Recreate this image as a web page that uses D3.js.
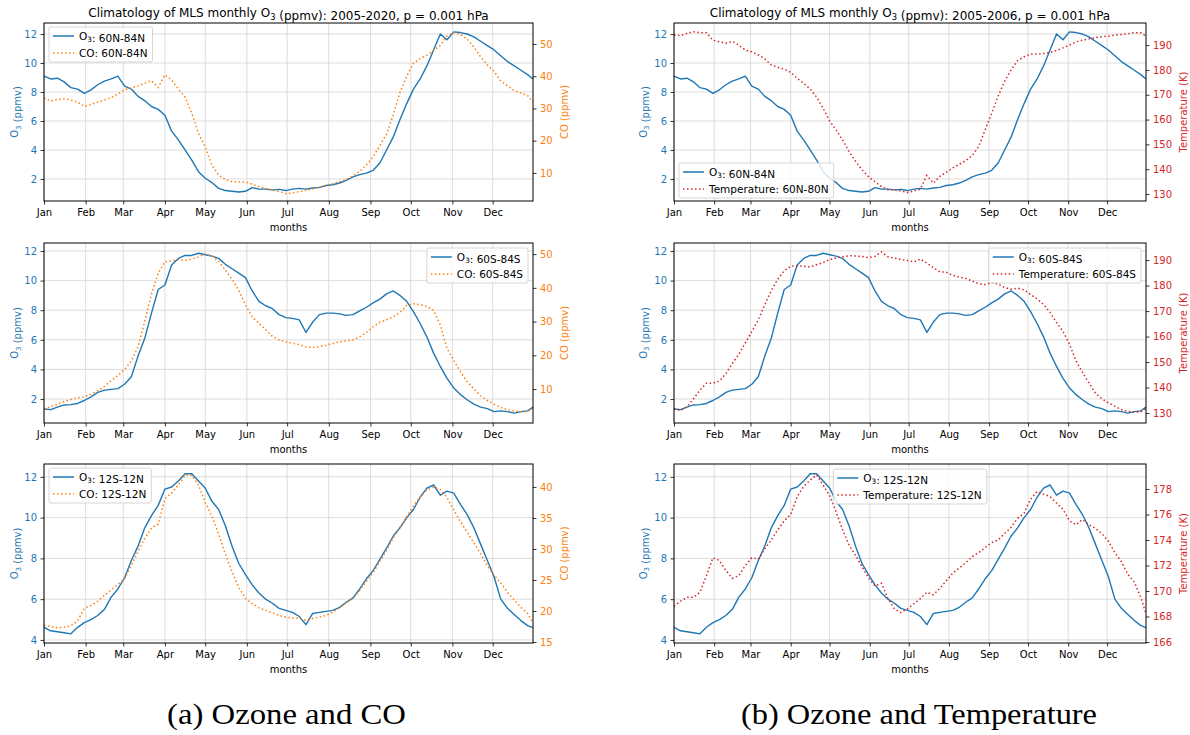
<!DOCTYPE html>
<html>
<head>
<meta charset="utf-8">
<script src="https://cdn.jsdelivr.net/npm/d3@7/dist/d3.min.js"></script>
<style>
  html, body { margin: 0; padding: 0; background: #fff; }
  svg { display: block; }
</style>
</head>
<body>
<svg id="figure" width="1190" height="735"></svg>
<script>
// Day-of-year sample positions (0 = 1 January)
const DAYS = [
  0, 5, 10, 15, 20, 25, 30, 35, 40, 45,
  50, 55, 60, 65, 70, 75, 80, 85, 90, 95,
  100, 105, 110, 115, 120, 125, 130, 135, 140, 145,
  150, 155, 160, 165, 170, 175, 180, 185, 190, 195,
  200, 205, 210, 215, 220, 225, 230, 235, 240, 245,
  250, 255, 260, 265, 270, 275, 280, 285, 290, 295,
  300, 305, 310, 315, 320, 325, 330, 335, 340, 345,
  350, 355, 360, 364
];
const MONTH_START_DAYS = [0, 31, 59, 90, 120, 151, 181, 212, 243, 273, 304, 334];
const MONTH_LABELS = ["Jan", "Feb", "Mar", "Apr", "May", "Jun", "Jul", "Aug", "Sep", "Oct", "Nov", "Dec"];

// O3 (ppmv), 0.001 hPa
const O3_60N_84N = [
  9.1, 8.9, 8.95, 8.7, 8.3, 8.2, 7.9, 8.15, 8.5, 8.75,
  8.9, 9.1, 8.4, 8.2, 7.7, 7.4, 7.0, 6.8, 6.4, 5.3,
  4.7, 4.0, 3.3, 2.5, 2.05, 1.75, 1.35, 1.2, 1.15, 1.1,
  1.15, 1.4, 1.3, 1.3, 1.25, 1.28, 1.2, 1.3, 1.35, 1.3,
  1.38, 1.42, 1.55, 1.6, 1.72, 1.9, 2.15, 2.3, 2.4, 2.6,
  3.1, 4.0, 4.9, 6.1, 7.2, 8.2, 8.9, 9.8, 10.9, 12.0,
  11.6, 12.15, 12.1, 12.0, 11.8, 11.5, 11.2, 10.9, 10.5, 10.1,
  9.8, 9.5, 9.2, 8.9
];
const O3_60S_84S = [
  1.33, 1.28, 1.45, 1.6, 1.62, 1.7, 1.9, 2.15, 2.45, 2.6,
  2.65, 2.7, 3.0, 3.5, 4.9, 6.1, 7.8, 9.4, 9.7, 11.05,
  11.5, 11.7, 11.7, 11.85, 11.75, 11.65, 11.5, 11.1, 10.8, 10.5,
  10.2, 9.3, 8.6, 8.3, 8.1, 7.7, 7.5, 7.45, 7.35, 6.5,
  7.2, 7.7, 7.8, 7.8, 7.75, 7.65, 7.7, 7.95, 8.2, 8.5,
  8.75, 9.1, 9.3, 9.0, 8.6, 7.9, 7.1, 6.2, 5.1, 4.2,
  3.4, 2.75, 2.3, 1.95, 1.65, 1.45, 1.35, 1.15, 1.2, 1.15,
  1.05, 1.15, 1.2, 1.45
];
const O3_12S_12N = [
  4.62, 4.45, 4.4, 4.35, 4.3, 4.62, 4.85, 5.0, 5.2, 5.5,
  6.1, 6.5, 7.05, 7.9, 8.6, 9.5, 10.1, 10.6, 11.4, 11.5,
  11.8, 12.15, 12.15, 11.8, 11.45, 10.8, 10.4, 9.6, 8.6, 7.75,
  7.2, 6.7, 6.3, 6.0, 5.8, 5.55, 5.45, 5.35, 5.15, 4.75,
  5.3, 5.35, 5.4, 5.45, 5.6, 5.85, 6.06, 6.5, 7.0, 7.4,
  7.95, 8.5, 9.1, 9.5, 10.0, 10.4, 11.0, 11.45, 11.6, 11.1,
  11.3, 11.2, 10.65, 10.15, 9.5, 8.7, 7.9, 7.1, 6.0, 5.55,
  5.25, 4.95, 4.7, 4.6
];

// CO (ppmv)
const CO_60N_84N = [
  33.2, 32.3, 32.8, 33.0, 32.6, 32.0, 30.6, 31.2, 32.0, 32.6,
  33.4, 34.5, 35.8, 36.4, 37.0, 37.8, 38.6, 36.5, 40.4, 38.8,
  36.0, 33.5, 28.5, 22.3, 18.1, 12.4, 9.3, 8.0, 7.3, 7.2,
  7.2, 6.5, 5.8, 5.2, 4.8, 4.2, 3.6, 3.8, 4.2, 4.6,
  5.0, 5.6, 6.2, 6.7, 7.3, 8.0, 9.0, 10.5, 12.5, 15.0,
  18.5, 22.0, 28.0, 35.0, 40.0, 44.0, 45.5, 46.5, 48.0, 49.5,
  52.5, 53.5, 53.0, 51.5, 49.0, 46.0, 43.5, 41.5, 38.5, 37.0,
  35.5, 34.8, 34.0, 32.0
];
const CO_60S_84S = [
  4.1, 4.8, 5.5, 6.3, 6.9, 7.4, 7.7, 8.5, 9.5, 10.8,
  12.5, 14.0, 15.8, 18.3, 22.5, 30.0, 38.2, 44.3, 47.7, 48.0,
  48.3, 48.2, 48.5, 49.2, 50.0, 49.5, 47.8, 45.3, 42.5, 39.3,
  34.9, 31.4, 29.5, 27.6, 25.6, 24.6, 24.0, 23.6, 23.2, 22.5,
  22.3, 22.6, 23.0, 23.5, 24.0, 24.3, 24.6, 25.5, 26.8, 28.5,
  29.8, 30.5, 31.5, 32.7, 34.8, 35.3, 35.0, 34.5, 33.3, 29.0,
  22.0, 18.5, 15.1, 12.2, 10.0, 8.0, 6.6, 5.5, 4.5, 3.9,
  3.5, 3.3, 3.3, 4.3
];
const CO_12S_12N = [
  17.7, 17.5, 17.3, 17.4, 17.6, 18.4, 20.4, 20.9, 21.6, 22.5,
  23.4, 24.3, 25.2, 27.3, 29.6, 31.7, 33.4, 34.0, 38.1, 39.0,
  40.3, 41.9, 41.9, 40.3, 37.5, 35.3, 32.4, 29.2, 26.3, 23.8,
  22.0, 21.2, 20.5, 20.1, 19.7, 19.3, 19.0, 18.9, 18.8, 18.5,
  18.8, 19.0, 19.3, 19.8, 20.5, 21.3, 22.0, 23.3, 24.8, 26.2,
  28.0, 29.8, 31.8, 33.5, 35.2, 36.9, 38.4, 39.5, 40.0, 39.6,
  38.3, 36.3, 34.4, 32.7, 31.0, 29.2, 27.3, 25.8, 24.5, 23.0,
  21.8, 20.6, 19.6, 18.0
];

// Temperature (K)
const T_60N_80N = [
  194.0, 193.8, 194.7, 195.4, 195.0, 195.0, 192.0, 191.3, 190.8, 191.5,
  190.0, 188.0, 187.3, 186.0, 184.5, 182.0, 181.0, 180.3, 179.0, 176.6,
  174.6, 172.3, 169.0, 164.5, 159.5, 155.8, 151.8, 147.1, 143.2, 139.8,
  137.0, 135.0, 133.0, 131.7, 131.8, 131.3, 130.6, 131.2, 132.0, 137.5,
  134.4, 137.1, 138.8, 140.5, 142.0, 143.5, 145.5, 149.2, 155.9, 162.5,
  169.5, 175.5, 180.0, 183.8, 185.3, 186.4, 186.4, 186.6, 187.0, 187.8,
  188.9, 190.0, 191.3, 192.0, 192.5, 193.0, 193.4, 193.6, 194.0, 194.3,
  194.6, 195.0, 195.0, 193.6
];
const T_60S_84S = [
  131.7, 131.0, 132.5, 135.5, 139.0, 141.7, 141.7, 142.5, 145.5, 149.5,
  153.0, 157.5, 162.0, 166.5, 172.5, 178.0, 182.5, 185.8, 187.6, 187.8,
  187.6, 187.3, 188.2, 189.0, 190.2, 190.8, 191.3, 191.7, 191.6, 191.4,
  191.0, 191.5, 193.2, 191.3, 190.8, 190.2, 189.8, 189.3, 190.4, 188.8,
  187.0, 185.4, 185.2, 184.0, 183.3, 182.8, 181.8, 180.7, 180.4, 181.2,
  180.6, 179.2, 178.6, 179.0, 178.3, 176.5, 174.8, 172.6, 169.5, 165.5,
  162.0, 157.0, 150.5, 146.0, 141.8, 137.8, 135.6, 134.0, 132.6, 131.4,
  130.6, 130.4, 130.5, 131.8
];
const T_12S_12N = [
  168.8, 169.2, 169.5, 169.5, 169.9, 171.2, 172.6, 172.4, 171.6, 171.0,
  171.2, 172.0, 172.6, 172.5, 173.3, 174.0, 174.8, 175.5, 176.0, 177.4,
  178.2, 178.7, 179.1, 178.3, 177.5, 176.2, 174.8, 173.6, 172.8, 171.9,
  171.0, 170.4, 170.6, 169.4, 168.6, 168.3, 168.6, 169.0, 169.4, 169.9,
  169.7, 170.2, 170.8, 171.4, 171.8, 172.2, 172.7, 173.0, 173.4, 173.8,
  174.0, 174.5, 175.0, 175.7, 176.1, 177.2, 177.8, 177.6, 177.4, 176.9,
  176.4, 175.5, 175.2, 175.6, 175.2, 174.9, 174.5, 173.9, 173.0, 172.3,
  171.3, 170.7, 169.5, 168.2
];

// Tick values
const O3_TICKS_HIGH_LAT = [2, 4, 6, 8, 10, 12];
const O3_TICKS_TROPICS = [4, 6, 8, 10, 12];
const CO_TICKS_HIGH_LAT = [10, 20, 30, 40, 50];
const CO_TICKS_TROPICS = [15, 20, 25, 30, 35, 40];
const T_TICKS_HIGH_LAT = [130, 140, 150, 160, 170, 180, 190];
const T_TICKS_TROPICS = [166, 168, 170, 172, 174, 176, 178];

const BLUE = "#1f77b4", ORANGE = "#ff7f0e", RED = "#d62728";
const FONT = "'DejaVu Sans', sans-serif";

const svg = d3.select("#figure");

// Write text made of plain and subscript parts, e.g. O<sub>3</sub>
function richText(sel, parts, size) {
  const sub = size * 0.7, shift = size * 0.25;
  parts.forEach(p => {
    if (p.sub) {
      sel.append("tspan").attr("font-size", sub).attr("dy", shift).text(p.t);
      sel.append("tspan").attr("dy", -shift).text("");
    } else {
      sel.append("tspan").text(p.t);
    }
  });
  return sel;
}
const O3 = [{ t: "O" }, { t: "3", sub: true }];

const LEFT_COL = { x: 44, w: 489 };
const RIGHT_COL = { x: 674, w: 472 };
const ROWS = [{ y: 23, h: 178 }, { y: 243, h: 180 }, { y: 464, h: 179 }];

const panels = [
  { col: LEFT_COL, row: ROWS[0], o3: O3_60N_84N, o3Dom: [0.48, 12.76], o3Ticks: O3_TICKS_HIGH_LAT,
    sec: CO_60N_84N, secDom: [1.3, 56.5], secTicks: CO_TICKS_HIGH_LAT, color: ORANGE,
    secAxis: "CO (ppmv)", region: "60N-84N", secLegend: "CO: 60N-84N", loc: "upper left",
    title: "2005-2020", rLabelOff: 31.5 },
  { col: LEFT_COL, row: ROWS[1], o3: O3_60S_84S, o3Dom: [0.38, 12.54], o3Ticks: O3_TICKS_HIGH_LAT,
    sec: CO_60S_84S, secDom: [-0.07, 53.3], secTicks: CO_TICKS_HIGH_LAT, color: ORANGE,
    secAxis: "CO (ppmv)", region: "60S-84S", secLegend: "CO: 60S-84S", loc: "upper right", rLabelOff: 31.5 },
  { col: LEFT_COL, row: ROWS[2], o3: O3_12S_12N, o3Dom: [3.85, 12.63], o3Ticks: O3_TICKS_TROPICS,
    sec: CO_12S_12N, secDom: [14.84, 43.7], secTicks: CO_TICKS_TROPICS, color: ORANGE,
    secAxis: "CO (ppmv)", region: "12S-12N", secLegend: "CO: 12S-12N", loc: "upper left", rLabelOff: 31.5 },
  { col: RIGHT_COL, row: ROWS[0], o3: O3_60N_84N, o3Dom: [0.48, 12.76], o3Ticks: O3_TICKS_HIGH_LAT,
    sec: T_60N_80N, secDom: [127.2, 198.9], secTicks: T_TICKS_HIGH_LAT, color: RED,
    secAxis: "Temperature (K)", region: "60N-84N", secLegend: "Temperature: 60N-80N", loc: "lower left",
    title: "2005-2006", rLabelOff: 37 },
  { col: RIGHT_COL, row: ROWS[1], o3: O3_60S_84S, o3Dom: [0.38, 12.54], o3Ticks: O3_TICKS_HIGH_LAT,
    sec: T_60S_84S, secDom: [126.1, 196.7], secTicks: T_TICKS_HIGH_LAT, color: RED,
    secAxis: "Temperature (K)", region: "60S-84S", secLegend: "Temperature: 60S-84S", loc: "upper right", rLabelOff: 37 },
  { col: RIGHT_COL, row: ROWS[2], o3: O3_12S_12N, o3Dom: [3.85, 12.63], o3Ticks: O3_TICKS_TROPICS,
    sec: T_12S_12N, secDom: [165.92, 179.96], secTicks: T_TICKS_TROPICS, color: RED,
    secAxis: "Temperature (K)", region: "12S-12N", secLegend: "Temperature: 12S-12N", loc: "upper center", rLabelOff: 37 }
];

function styleAxis(g, color) {
  g.attr("font-family", FONT).attr("font-size", 10);
  g.select(".domain").remove();
  g.selectAll(".tick line").attr("stroke", "#000").attr("stroke-width", 0.8);
  g.selectAll(".tick text").attr("fill", color);
}

function drawLegend(g, p, w, h) {
  const fs = 10.5;
  const lg = g.append("g").attr("font-family", FONT).attr("font-size", fs);
  const frame = lg.append("rect");
  const items = [
    { parts: O3.concat([{ t: ": " + p.region }]), color: BLUE, dash: null },
    { parts: [{ t: p.secLegend }], color: p.color, dash: "1.5,2.5" }
  ];
  const texts = items.map((it, i) => {
    const cy = 9 + i * 17;
    lg.append("line").attr("x1", 4).attr("x2", 25).attr("y1", cy).attr("y2", cy)
      .attr("stroke", it.color).attr("stroke-width", 1.5)
      .attr("stroke-dasharray", it.dash);
    return richText(lg.append("text").attr("x", 30).attr("y", cy + 3.8).attr("fill", "#000"), it.parts, fs);
  });
  const tw = d3.max(texts, t => t.node().getComputedTextLength());
  const bw = 30 + tw + 5, bh = 35;
  frame.attr("width", bw).attr("height", bh).attr("rx", 2)
    .attr("fill", "#fff").attr("fill-opacity", 0.8).attr("stroke", "#cccccc").attr("stroke-width", 0.8);
  let bx = 5, by = 4;
  if (p.loc === "upper right") { bx = w - 5 - bw; by = 5; }
  if (p.loc === "lower left") { bx = 5; by = h - 3 - bh; }
  if (p.loc === "upper center") { bx = (w - bw) / 2; by = 5; }
  lg.attr("transform", `translate(${bx},${by})`);
}

panels.forEach(p => {
  const w = p.col.w, h = p.row.h;
  const g = svg.append("g").attr("transform", `translate(${p.col.x},${p.row.y})`);
  const x = d3.scaleLinear().domain([0, 364]).range([0, w]);
  const yL = d3.scaleLinear().domain(p.o3Dom).range([h, 0]);
  const yR = d3.scaleLinear().domain(p.secDom).range([h, 0]);

  // grid
  g.append("g").selectAll("line").data(MONTH_START_DAYS).join("line")
    .attr("x1", d => x(d)).attr("x2", d => x(d)).attr("y1", 0).attr("y2", h)
    .attr("stroke", "#d4d4d4").attr("stroke-width", 0.8);
  g.append("g").selectAll("line").data(p.o3Ticks).join("line")
    .attr("x1", 0).attr("x2", w).attr("y1", d => yL(d)).attr("y2", d => yL(d))
    .attr("stroke", "#d4d4d4").attr("stroke-width", 0.8);

  // series
  const lineL = d3.line().x((d, i) => x(DAYS[i])).y(d => yL(d));
  const lineR = d3.line().x((d, i) => x(DAYS[i])).y(d => yR(d));
  g.append("path").datum(p.o3).attr("d", lineL).attr("fill", "none")
    .attr("stroke", BLUE).attr("stroke-width", 1.4).attr("stroke-linejoin", "round");
  g.append("path").datum(p.sec).attr("d", lineR).attr("fill", "none")
    .attr("stroke", p.color).attr("stroke-width", 1.5).attr("stroke-dasharray", "1.5,2.5");

  // frame
  g.append("rect").attr("width", w).attr("height", h).attr("fill", "none")
    .attr("stroke", "#000").attr("stroke-width", 1);

  // axes
  const axB = g.append("g").attr("transform", `translate(0,${h})`)
    .call(d3.axisBottom(x).tickValues(MONTH_START_DAYS).tickFormat((d, i) => MONTH_LABELS[i])
      .tickSize(3.5).tickPadding(4));
  styleAxis(axB, "#000");
  const axL = g.append("g")
    .call(d3.axisLeft(yL).tickValues(p.o3Ticks).tickFormat(d3.format("d")).tickSize(3.5).tickPadding(3.5));
  styleAxis(axL, BLUE);
  const axR = g.append("g").attr("transform", `translate(${w},0)`)
    .call(d3.axisRight(yR).tickValues(p.secTicks).tickFormat(d3.format("d")).tickSize(3.5).tickPadding(3.5));
  styleAxis(axR, p.color);

  // axis labels
  g.append("text").attr("x", w / 2).attr("y", h + 29.5).attr("text-anchor", "middle")
    .attr("font-family", FONT).attr("font-size", 10).attr("fill", "#000").text("months");
  richText(g.append("text")
    .attr("transform", `translate(${p.col === LEFT_COL ? -29.5 : -31},${h / 2}) rotate(-90)`)
    .attr("text-anchor", "middle").attr("dy", "0.35em")
    .attr("font-family", FONT).attr("font-size", 10).attr("fill", BLUE),
    O3.concat([{ t: " (ppmv)" }]), 10);
  g.append("text")
    .attr("transform", `translate(${w + p.rLabelOff},${h / 2}) rotate(-90)`)
    .attr("text-anchor", "middle").attr("dy", "0.35em")
    .attr("font-family", FONT).attr("font-size", 10).attr("fill", p.color).text(p.secAxis);

  if (p.title) {
    richText(g.append("text").attr("x", w / 2).attr("y", -6.5).attr("text-anchor", "middle")
      .attr("font-family", FONT).attr("font-size", 12).attr("fill", "#000"),
      [{ t: "Climatology of MLS monthly " }].concat(O3, [{ t: " (ppmv): " + p.title + ", p = 0.001 hPa" }]), 12);
  }

  drawLegend(g, p, w, h);
});

// sub-figure captions
const captions = [
  { text: "(a) Ozone and CO", cx: 286.5, len: 239 },
  { text: "(b) Ozone and Temperature", cx: 919, len: 356 }
];
svg.selectAll("text.caption").data(captions).join("text")
  .attr("class", "caption")
  .attr("x", d => d.cx).attr("y", 724).attr("text-anchor", "middle")
  .attr("font-family", "'Liberation Serif', serif").attr("font-size", 30)
  .attr("textLength", d => d.len).attr("lengthAdjust", "spacingAndGlyphs")
  .attr("fill", "#000").text(d => d.text);
</script>
</body>
</html>
